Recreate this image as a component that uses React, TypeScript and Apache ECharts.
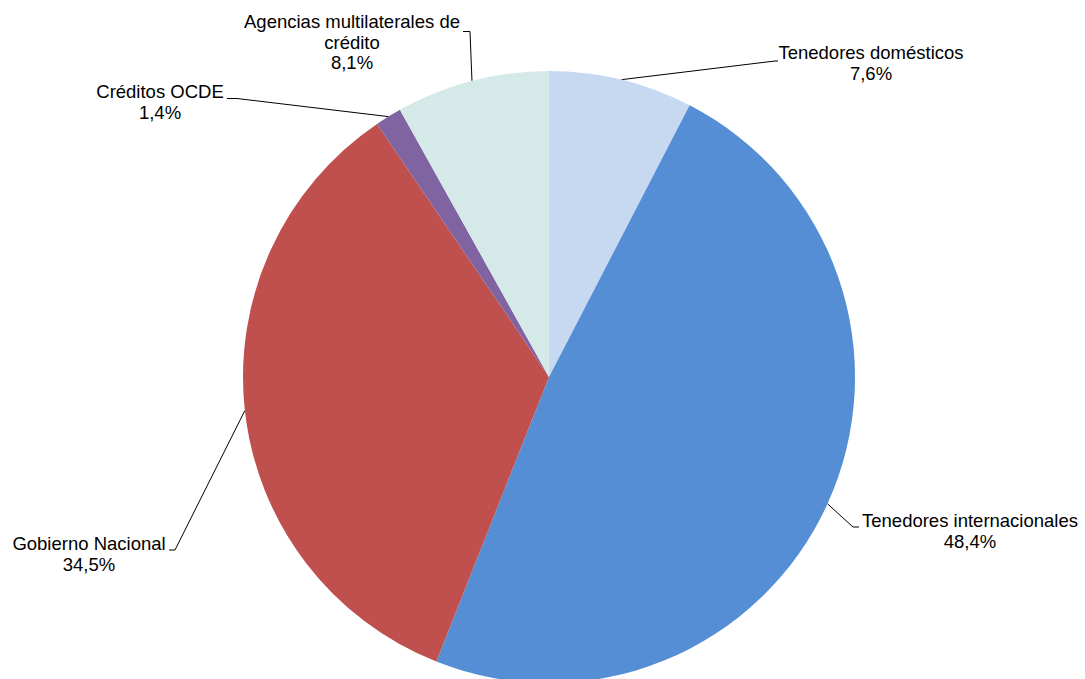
import React, { useEffect, useRef } from "react";
import * as echarts from "echarts";

const categories = [
  "Tenedores domésticos",
  "Tenedores internacionales",
  "Gobierno Nacional",
  "Créditos OCDE",
  "Agencias multilaterales de crédito",
];
const labelNames = [
  "Tenedores domésticos",
  "Tenedores internacionales",
  "Gobierno Nacional",
  "Créditos OCDE",
  "Agencias multilaterales de\ncrédito",
];
const shares = [7.6, 48.4, 34.5, 1.4, 8.1];
const colors = ["#C6D9F1", "#558ED5", "#C0504D", "#8064A2", "#D6E9E9"];

// label placement (style): label centre, leader bend point, leader end point
const labelPlacement = [
  { x: 871, y: 63, bend: [775, 61], end: [778, 61] },
  { x: 970, y: 531, bend: [853, 527], end: [859, 527] },
  { x: 89, y: 554, bend: [175, 550], end: [169, 550] },
  { x: 160, y: 102, bend: [237, 98.5], end: [227, 98.5] },
  { x: 352, y: 42, bend: [470, 31.5], end: [463, 31.5] },
];

export default function App() {
  const ref = useRef<HTMLDivElement>(null);
  useEffect(() => {
    document.body.style.margin = "0";
    const chart = echarts.init(ref.current!, null, { renderer: "svg" });
    chart.setOption({
      animation: false,
      backgroundColor: "#FFFFFF",
      series: [
        {
          type: "pie",
          center: [549, 377],
          radius: 306,
          startAngle: 90,
          clockwise: true,
          avoidLabelOverlap: false,
          itemStyle: { borderWidth: 0 },
          label: {
            show: true,
            position: "outside",
            color: "#000000",
            fontFamily: "Liberation Sans, Arial, sans-serif",
            fontSize: 18.5,
            lineHeight: 20.5,
            align: "center",
            formatter: (p: any) =>
              `${labelNames[p.dataIndex]}\n${p.value.toFixed(1).replace(".", ",")}%`,
          },
          labelLine: {
            show: true,
            length: 20,
            length2: 20,
            lineStyle: { color: "#000000", width: 1 },
          },
          labelLayout: (params: any) => {
            const lp = labelPlacement[params.dataIndex];
            const start = params.labelLinePoints ? params.labelLinePoints[0] : lp.bend;
            return {
              x: lp.x,
              y: lp.y,
              align: "center",
              verticalAlign: "middle",
              labelLinePoints: [start, lp.bend, lp.end],
            };
          },
          data: categories.map((name, i) => ({
            name,
            value: shares[i],
            itemStyle: { color: colors[i] },
          })),
        },
      ],
    });
    return () => chart.dispose();
  }, []);
  return <div ref={ref} style={{ width: 1085, height: 679 }} />;
}
